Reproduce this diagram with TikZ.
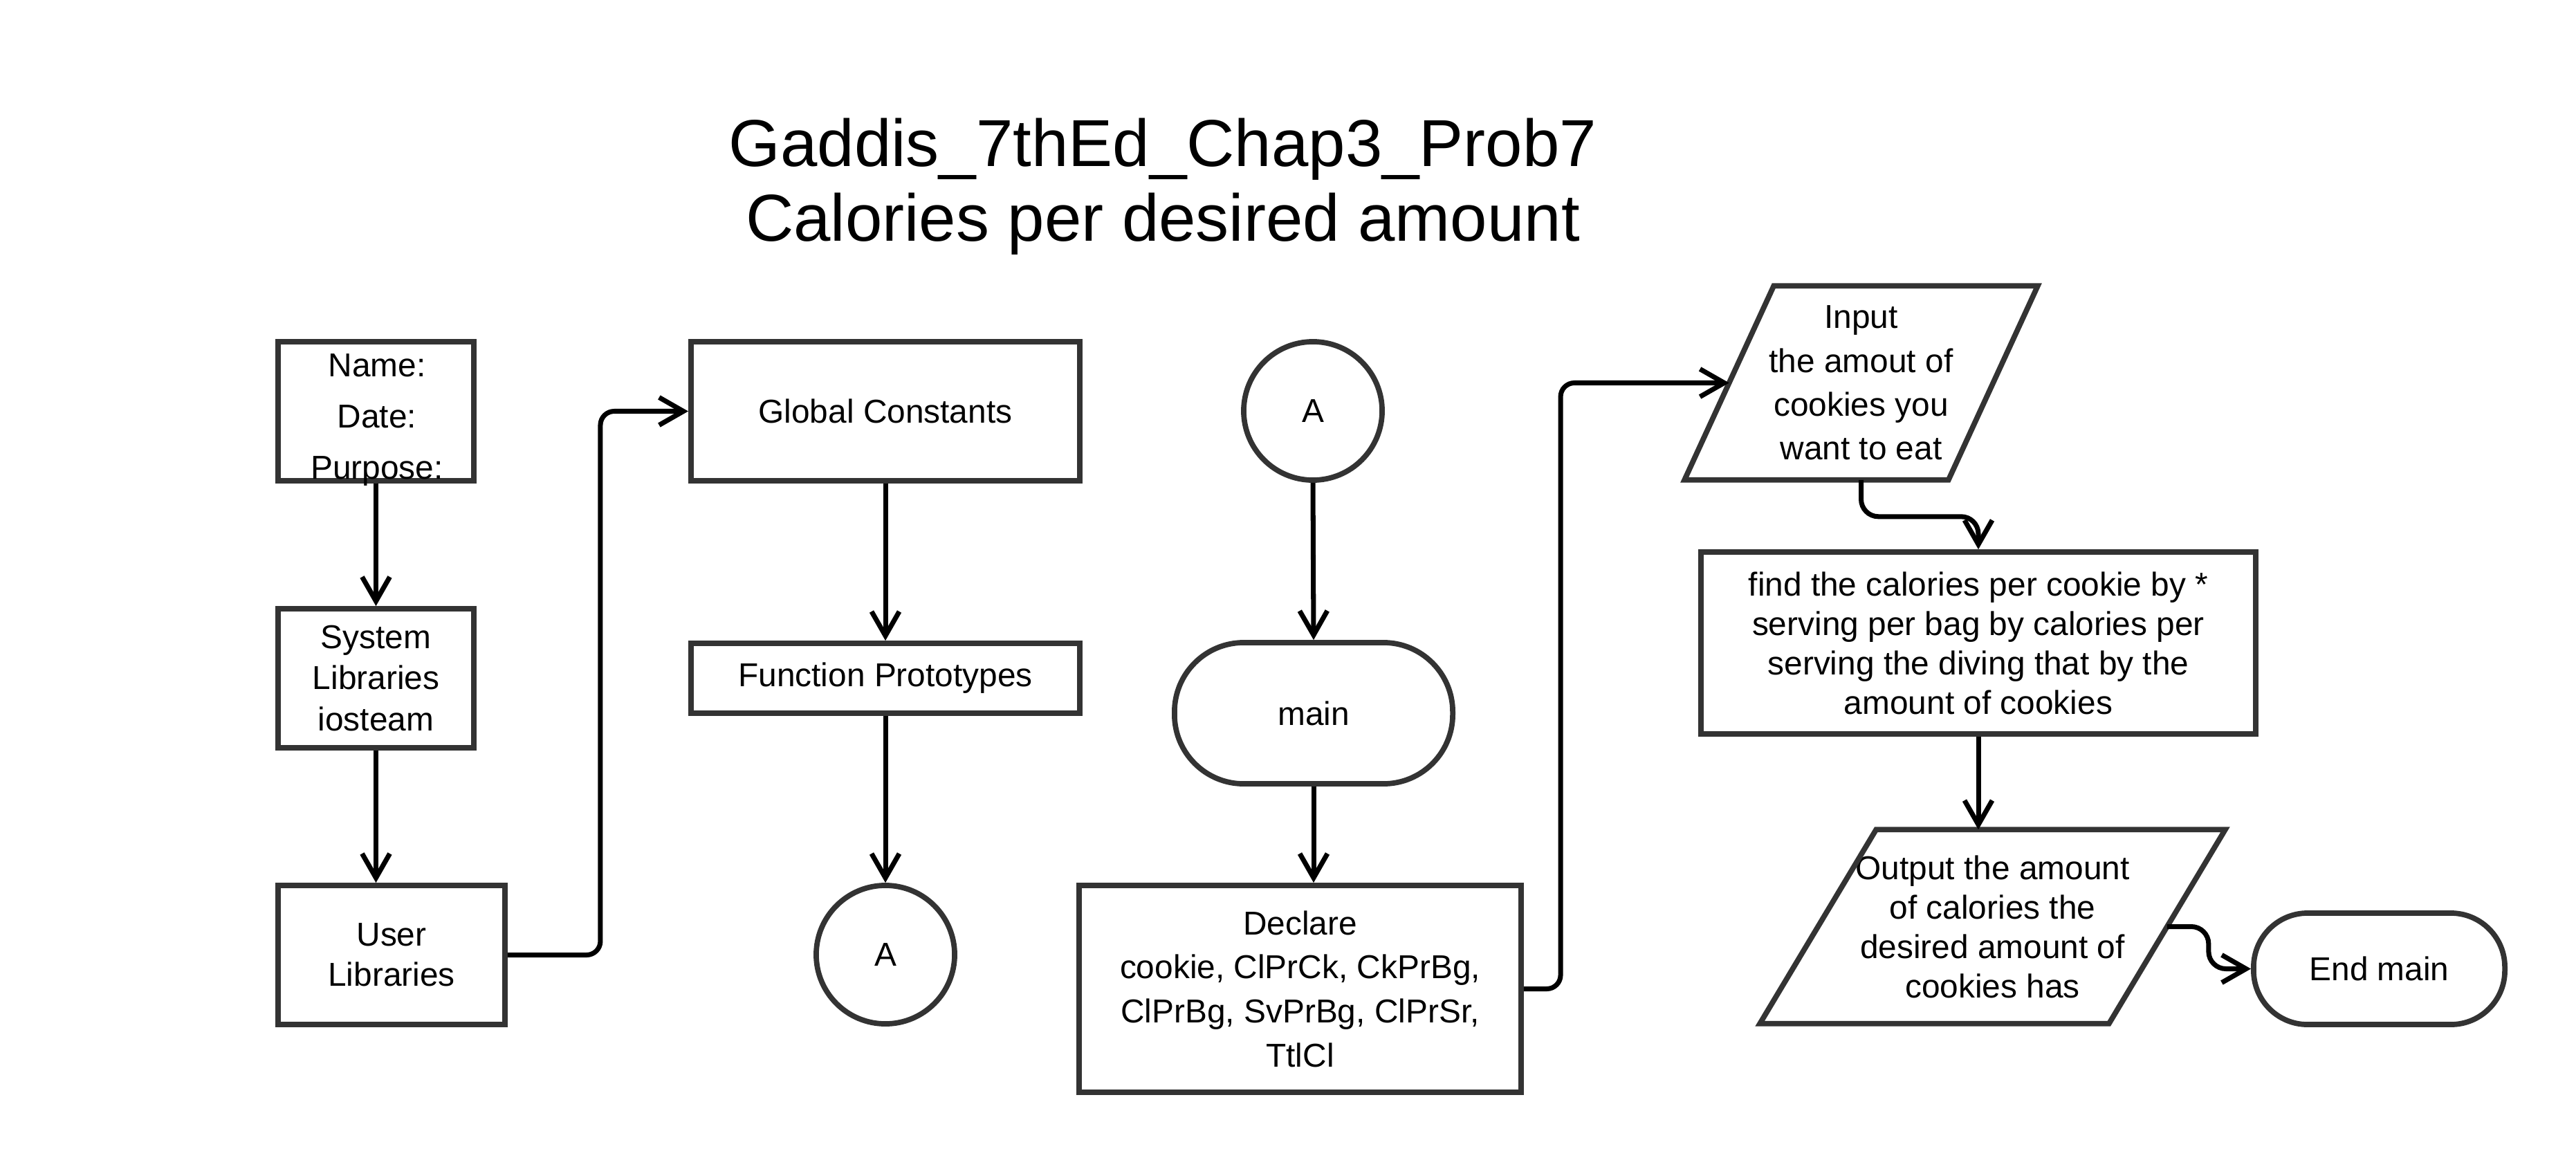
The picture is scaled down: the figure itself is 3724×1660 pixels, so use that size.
\documentclass[tikz,border=0pt]{standalone}
\usepackage{fontspec}
\setmainfont{Liberation Sans}
\usetikzlibrary{arrows.meta}

\begin{document}
\begin{tikzpicture}[x=0.01cm, y=-0.01cm,
  box/.style={draw=black!80, line width=2.2pt, align=center, inner sep=0pt, font=\fontsize{13.6}{16.5}\selectfont},
  terminal/.style={box, rounded corners=1cm},
  onpage/.style={circle, draw=black!80, line width=2.2pt, minimum size=2cm, inner sep=0pt, font=\fontsize{13.6}{16.5}\selectfont},
  iotext/.style={align=center, inner sep=0pt, font=\fontsize{13.6}{16.2}\selectfont},
  io/.style={draw=black!80, line width=2.2pt, line join=miter},
  flow/.style={black, line width=2pt, -{Straight Barb[length=3.5mm,width=4mm]}},
  titletext/.style={anchor=base, font=\fontsize{27.3}{30.7}\selectfont}]

\useasboundingbox (0,0) rectangle (3724,1660);

% Title
\node[titletext] (title) at (1681,240) {Gaddis\_7thEd\_Chap3\_Prob7};
\node[titletext] (subtitle) at (1681,348) {Calories per desired amount};

% Header and libraries
\node[box, minimum width=2.83cm, minimum height=2.01cm] (hdr) at (543.5,594.5) {};
\node[iotext, font=\fontsize{13.6}{21}\selectfont] (hdrtext) at (545,607) {Name:\\Date:\\Purpose:};
\node[box, minimum width=2.83cm, minimum height=2.01cm, font=\fontsize{13.6}{17}\selectfont] (syslib) at (543.5,980.5) {System\\Libraries\\iosteam};
\node[box, minimum width=3.28cm, minimum height=2.01cm] (usrlib) at (566,1380.5) {User\\Libraries};

% Globals and prototypes
\node[box, minimum width=5.62cm, minimum height=2.01cm] (globals) at (1280,594.5) {Global Constants};
\node[box, minimum width=5.62cm, minimum height=1.01cm] (protos) at (1280,980.5) {Function Prototypes};
\node[onpage] (offA) at (1280,1380) {A};

% main
\node[onpage] (onA) at (1898,594) {A};
\node[terminal, minimum width=4.02cm, minimum height=2.04cm] (mainstart) at (1899,1031) {main};
\node[box, minimum width=6.39cm, minimum height=2.99cm, font=\fontsize{13.6}{18.1}\selectfont] (declare) at (1879.5,1429.5) {Declare\\cookie, ClPrCk, CkPrBg,\\ClPrBg, SvPrBg, ClPrSr,\\TtlCl};

% Input
\node[iotext, minimum width=5.09cm, minimum height=2.79cm, font=\fontsize{13.6}{18}\selectfont] (input) at (2690.5,553.5) {Input\\the amout of\\cookies you\\want to eat};
\draw[io] ([xshift=1.29cm]input.north west) -- (input.north east) -- ([xshift=-1.29cm]input.south east) -- (input.south west) -- cycle;

% Process
\node[box, minimum width=8.02cm, minimum height=2.63cm, font=\fontsize{13.6}{16.2}\selectfont] (calc) at (2860,929.5) {find the calories per cookie by *\\serving per bag by calories per\\serving the diving that by the\\amount of cookies};

% Output
\node[iotext, minimum width=6.71cm, minimum height=2.79cm] (output) at (2880.5,1339.5) {Output the amount\\of calories the\\desired amount of\\cookies has};
\draw[io] ([xshift=1.68cm]output.north west) -- (output.north east) -- ([xshift=-1.68cm]output.south east) -- (output.south west) -- cycle;

\node[terminal, minimum width=3.63cm, minimum height=1.61cm, rounded corners=0.78cm] (endmain) at (3439.5,1400.5) {End main};

% Connectors
\draw[flow] (hdr.south) -- (syslib.north);
\draw[flow] (syslib.south) -- (syslib.south |- usrlib.north);
\draw[flow, rounded corners=0.2cm] (usrlib.east) -- ++(134,0) |- (globals.west);
\draw[flow] (globals.south) -- (protos.north);
\draw[flow] (protos.south) -- (offA.north);
\draw[flow] (onA.south) -- (mainstart.north);
\draw[flow] (mainstart.south) -- (mainstart.south |- declare.north);
\draw[flow, rounded corners=0.2cm] (declare.east) -- ++(53,0) |- ([xshift=0.645cm]input.west);
\draw[flow, rounded corners=0.25cm] (input.south) -- ++(0,53) -| (calc.north);
\draw[flow] (calc.south) -- (calc.south |- output.north);
\draw[flow, rounded corners=0.25cm] ([xshift=-0.84cm]output.east) -- ++(60,0) |- (endmain.west);
\end{tikzpicture}
\end{document}
